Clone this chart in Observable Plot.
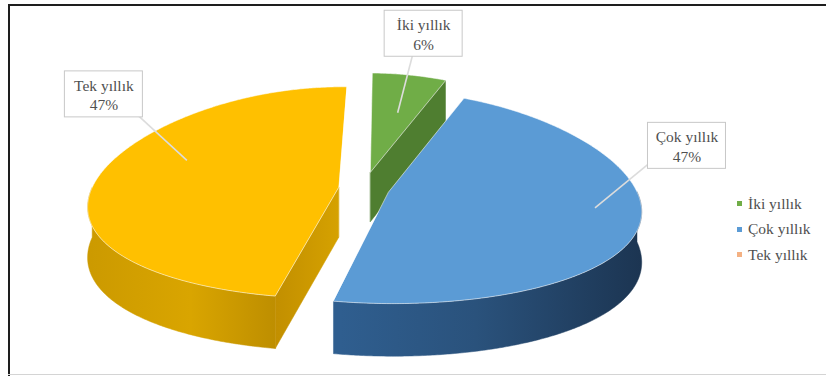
<!DOCTYPE html>
<html>
<head>
<meta charset="utf-8">
<script src="https://cdn.jsdelivr.net/npm/d3@7"></script>
<script src="https://cdn.jsdelivr.net/npm/@observablehq/plot@0.6"></script>
<style>
  html, body { margin: 0; padding: 0; background: #fff; }
  #wrap { position: relative; width: 826px; height: 376px; overflow: hidden; background: #fff; }
  .bl { position: absolute; left: 8px; top: 4px; width: 2px; height: 372px; background: #1e1e1e; }
  .bt { position: absolute; left: 8px; top: 4px; width: 818px; height: 2px; background: #1e1e1e; }
  .bb { position: absolute; left: 8px; top: 374px; width: 818px; height: 1px; background: #d4d4d4; }
  #legend { position: absolute; left: 737px; top: 191px; font-family: "Liberation Serif", "Times New Roman", serif; font-size: 15.5px; color: #505050; }
  #legend .row { height: 25.5px; display: flex; align-items: center; }
  #legend .sw { width: 5px; height: 5px; margin-right: 6px; }
</style>
</head>
<body>
<div id="wrap">
  <div id="chart"></div>
  <div class="bl"></div><div class="bt"></div><div class="bb"></div>
  <div id="legend"></div>
</div>
<script>
// ---- data ----
const categories = ["İki yıllık", "Çok yıllık", "Tek yıllık"];
const percents = [6, 47, 47];

// ---- layout / style (not data) ----
const geo = { cx: 362, cy: 188, R: 247, r: 106, depth: 50, kx: 0.18, ky: 0.05, startAngle: 1 };
const explode = [0.16, 0.11, 0.097];
const labelLayout = [
  { frac: 0.54, rho: 0.60, dx: 26, dy: -79, ax: -11, ay: 21 },
  { frac: 0.46, rho: 0.82, dx: 92, dy: -62, ax: -36, ay: 16 },
  { frac: 0.59, rho: 0.70, dx: -83, dy: -66, ax: 33, ay: 20 }
];
const box = { w: 78, h: 46 };
const serif = "'Liberation Serif', 'Times New Roman', serif";
const topColors = ["#70AD47", "#5B9BD5", "#FFC000"];
const sideFill = ["url(#gGreen)", "url(#gBlue)", "url(#gYellow)"];
const cutFill = ["#4F7E30", "#24476C", "url(#gYellowCut)"];
const legendColors = ["#70AD47", "#5B9BD5", "#F4B183"];

const rad = d => d * Math.PI / 180;
const total = d3.sum(percents);

// slices computed from the values
let acc = geo.startAngle;
const slices = categories.map((c, i) => {
  const a0 = acc, a1 = acc + percents[i] / total * 360;
  acc = a1;
  const mid = (a0 + a1) / 2;
  return { i, c, a0, a1, mid, ex: explode[i] * Math.sin(rad(mid)), ey: -explode[i] * Math.cos(rad(mid)) };
});

function proj(px, py, z) {
  const fx = 1 + geo.kx * py, fy = 1 + geo.ky * py;
  return { x: geo.cx + geo.R * px * fx, y: geo.cy + geo.r * py * fy + geo.depth * z * fy };
}
function pt(s, rho, phi, z) {
  return proj(s.ex + rho * Math.sin(rad(phi)), s.ey - rho * Math.cos(rad(phi)), z);
}
function arc(s, from, to, z) {
  const n = Math.max(2, Math.ceil(Math.abs(to - from) / 0.5));
  return d3.range(n + 1).map(j => pt(s, 1, from + (to - from) * j / n, z));
}

const sides = [], tops = [];
for (const s of slices) {
  tops.push({ s, pts: [pt(s, 0, 0, 0), ...arc(s, s.a0, s.a1, 0)] });
  for (const [lo, hi] of [[90, 270], [450, 630]]) {
    const a = Math.max(s.a0, lo), b = Math.min(s.a1, hi);
    if (b > a) sides.push({ s, kind: "wall", pts: [...arc(s, a, b, 0), ...arc(s, b, a, 1)] });
  }
  const faces = [[s.a0, -Math.sin(rad(s.a0))], [s.a1, Math.sin(rad(s.a1))]];
  for (const [phi, ny] of faces) {
    if (ny > 0.05) sides.push({ s, kind: "cut", pts: [pt(s, 0, 0, 0), pt(s, 1, phi, 0), pt(s, 1, phi, 1), pt(s, 0, 0, 1)] });
  }
}
const drawOrder = [2, 0, 1];
const sideMarks = [];
for (const i of drawOrder) for (const f of sides.filter(d => d.s.i === i)) {
  const c = f.kind === "wall" ? sideFill[i] : cutFill[i];
  sideMarks.push(Plot.line(f.pts, { x: "x", y: "y", curve: "linear-closed", fill: c, stroke: c, strokeWidth: 0.5 }));
}
const topMarks = [];
for (const i of drawOrder) for (const f of tops.filter(d => d.s.i === i)) {
  topMarks.push(Plot.line(f.pts, { x: "x", y: "y", curve: "linear-closed",
    fill: topColors[i], stroke: "rgba(255,255,255,0.55)", strokeWidth: 1 }));
}

// labels
const labels = slices.map(s => {
  const L = labelLayout[s.i];
  const a = pt(s, L.rho, s.a0 + (s.a1 - s.a0) * L.frac, 0);
  const bx = a.x + L.dx, by = a.y + L.dy;
  return { text: `${s.c}\n${percents[s.i]}%`, ax: a.x, ay: a.y, bx, by, lx: bx + L.ax, ly: by + L.ay };
});

const chart = Plot.plot({
  width: 826, height: 376, margin: 0,
  x: { domain: [0, 826], range: [0, 826], axis: null },
  y: { domain: [0, 376], range: [0, 376], axis: null },
  style: { background: "transparent", overflow: "visible", fontFamily: serif },
  marks: [
    ...sideMarks,
    ...topMarks,
    Plot.link(labels, { x1: "ax", y1: "ay", x2: "lx", y2: "ly", stroke: "#dcdcdc", strokeWidth: 1.6 }),
    Plot.rect(labels, { x1: d => d.bx - box.w / 2, x2: d => d.bx + box.w / 2, y1: d => d.by - box.h / 2, y2: d => d.by + box.h / 2,
      fill: "white", stroke: "#c8c8c8", strokeWidth: 1 }),
    Plot.text(labels, { x: "bx", y: "by", text: "text", fontSize: 15.5, fontFamily: serif, fill: "#505050", lineHeight: 1.25 })
  ]
});

const defs = d3.select(chart).insert("defs", ":first-child");
function grad(id, stops, x1, x2) {
  const g = defs.append("linearGradient").attr("id", id).attr("gradientUnits", "userSpaceOnUse")
    .attr("x1", x1).attr("x2", x2).attr("y1", 0).attr("y2", 0);
  stops.forEach(([o, c]) => g.append("stop").attr("offset", o).attr("stop-color", c));
}
grad("gBlue", [[0, "#2F5E8F"], [0.45, "#2A527C"], [1, "#1C3552"]], 340, 640);
grad("gYellow", [[0, "#CC9A00"], [0.5, "#D9A500"], [1, "#B98A00"]], 90, 290);
grad("gYellowCut", [[0, "#C28F00"], [1, "#D6A200"]], 275, 340);
grad("gGreen", [[0, "#4F7E30"], [1, "#4F7E30"]], 0, 826);

document.getElementById("chart").appendChild(chart);

const lg = document.getElementById("legend");
categories.forEach((c, i) => {
  const row = document.createElement("div"); row.className = "row";
  const sw = document.createElement("div"); sw.className = "sw"; sw.style.background = legendColors[i];
  const t = document.createElement("span"); t.textContent = c;
  row.appendChild(sw); row.appendChild(t); lg.appendChild(row);
});
</script>
</body>
</html>
